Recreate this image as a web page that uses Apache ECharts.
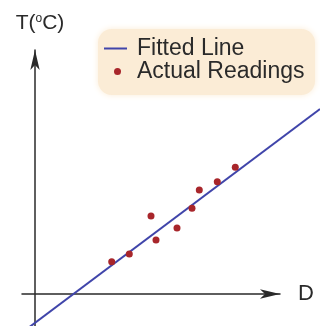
<!DOCTYPE html>
<html>
<head>
<meta charset="utf-8">
<script src="https://cdn.jsdelivr.net/npm/echarts@6/dist/echarts.min.js"></script>
<style>html,body{margin:0;padding:0;background:#fff}#c{width:320px;height:326px}</style>
</head>
<body>
<div id="c"></div>
<script>
var readingsD = [7.67, 9.43, 11.6, 12.1, 14.2, 15.7, 16.43, 18.23, 20.03];
var readingsT = [3.23, 4.0, 7.8, 5.4, 6.6, 8.57, 10.4, 11.23, 12.67];
var fitD = [-1.5, 28.5];
var fitT = [-4.01, 18.49];
var seriesNames = ['Fitted Line', 'Actual Readings'];

var chart = echarts.init(document.getElementById('c'), null, {renderer: 'canvas'});
var font = 'Liberation Sans, Arial, sans-serif';
var hiddenAxis = {show: false, axisLine: {show: false}, axisTick: {show: false}, axisLabel: {show: false}, splitLine: {show: false}};
chart.setOption({
  animation: false,
  grid: [
    {left: 22, right: 40, top: 50, bottom: 0, containLabel: false},
    {left: 0, right: 0, top: 0, bottom: 0, containLabel: false}
  ],
  graphic: [{
    type: 'rect', z: 0,
    shape: {x: 98, y: 29, width: 217, height: 66, r: 14},
    style: {fill: '#fbecd6', shadowBlur: 6, shadowColor: '#fbecd6'}
  }],
  legend: [{
    data: [{name: seriesNames[0], icon: 'rect'}], left: 104, top: 37, orient: 'vertical',
    itemWidth: 23, itemHeight: 2, padding: 0,
    textStyle: {fontSize: 23, color: '#2a2a2a', fontFamily: font, padding: [0, 0, 0, 5]}
  }, {
    data: [{name: seriesNames[1], icon: 'circle'}], left: 114, top: 60, orient: 'vertical',
    itemWidth: 7, itemHeight: 7, padding: 0,
    textStyle: {fontSize: 23, color: '#2a2a2a', fontFamily: font, padding: [0, 0, 0, 11]}
  }],
  xAxis: [{
    type: 'value', gridIndex: 0, min: -1.3, max: 24.5,
    name: 'D', nameLocation: 'end', nameGap: 18,
    nameTextStyle: {fontSize: 22, color: '#2a2a2a', fontFamily: font, verticalAlign: 'middle', padding: [2, 0, 0, 0]},
    axisLine: {show: true, onZero: true, symbol: ['none', 'arrow'], symbolSize: [7, 20], lineStyle: {color: '#2a2a2a', width: 1.5}},
    axisTick: {show: false}, axisLabel: {show: false}, splitLine: {show: false}
  }, Object.assign({type: 'value', gridIndex: 1, min: -3.5, max: 28.5}, hiddenAxis)],
  yAxis: [{
    type: 'value', gridIndex: 0, min: -3.2, max: 24.4,
    name: 'T({s|o}C)', nameLocation: 'end', nameGap: 16,
    nameTextStyle: {
      fontSize: 21, color: '#2a2a2a', fontFamily: font, padding: [0, 0, 0, 10],
      rich: {s: {fontSize: 12, color: '#2a2a2a', fontFamily: font, verticalAlign: 'top', padding: [0, 0, 8, 0]}}
    },
    axisLine: {show: true, onZero: true, symbol: ['none', 'arrow'], symbolSize: [7, 20], lineStyle: {color: '#2a2a2a', width: 1.5}},
    axisTick: {show: false}, axisLabel: {show: false}, splitLine: {show: false}
  }, Object.assign({type: 'value', gridIndex: 1, min: -3.2, max: 29.4}, hiddenAxis)],
  series: [{
    name: seriesNames[0], type: 'line', xAxisIndex: 1, yAxisIndex: 1, symbol: 'none', showSymbol: false,
    data: fitD.map(function (d, i) { return [d, fitT[i]]; }),
    lineStyle: {color: '#4045aa', width: 2}, itemStyle: {color: '#4045aa'}, z: 2
  }, {
    name: seriesNames[1], type: 'scatter', xAxisIndex: 0, yAxisIndex: 0, symbolSize: 7,
    data: readingsD.map(function (d, i) { return [d, readingsT[i]]; }),
    itemStyle: {color: '#a8262b', opacity: 1}, z: 3
  }]
});
</script>
</body>
</html>
